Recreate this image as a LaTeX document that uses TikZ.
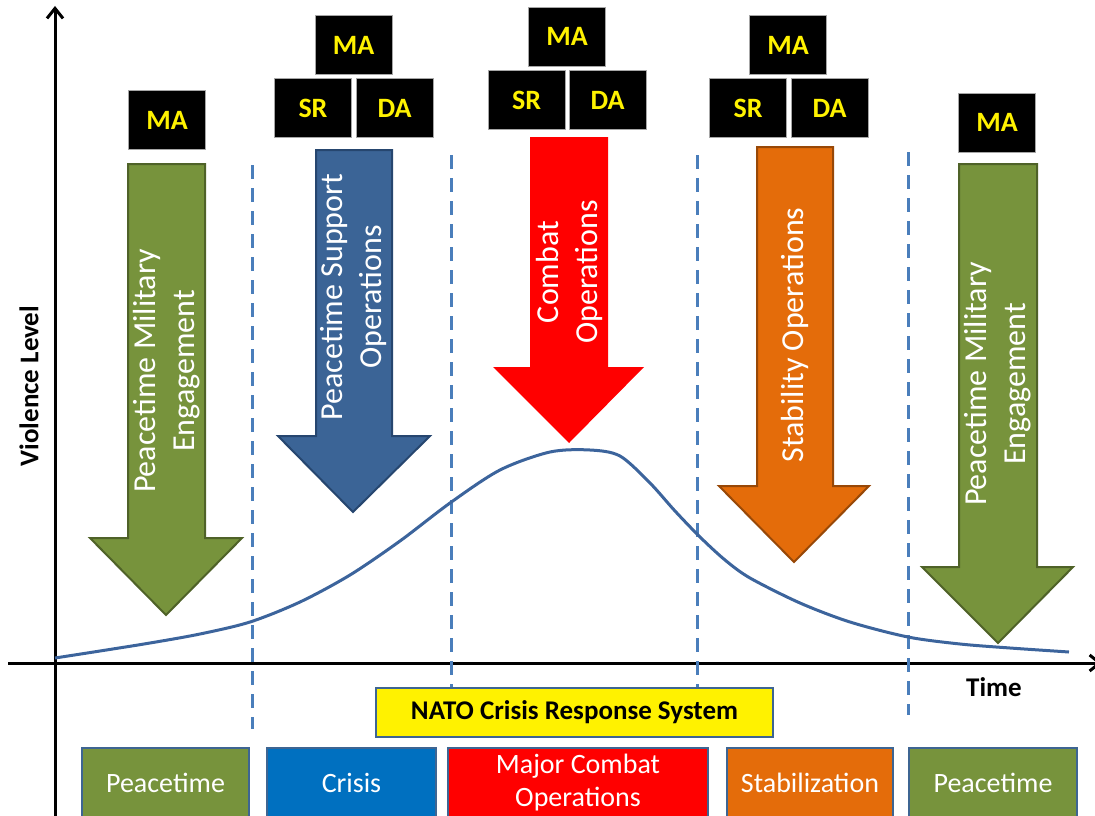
\documentclass[tikz,border=0pt]{standalone}
\usepackage{fontspec}
\setmainfont{Carlito}
\usetikzlibrary{arrows.meta}

\definecolor{pmegreen}{HTML}{77933C}
\definecolor{pmeedge}{HTML}{4F6228}
\definecolor{psoblue}{HTML}{3B6496}
\definecolor{psoedge}{HTML}{26466F}
\definecolor{stabor}{HTML}{E46C0A}
\definecolor{staboredge}{HTML}{984807}
\definecolor{crisisblue}{HTML}{0070C0}
\definecolor{boxedge}{HTML}{3E6592}
\definecolor{curveblue}{HTML}{3C649C}
\definecolor{dashblue}{HTML}{4A7EBB}

\begin{document}
\begin{tikzpicture}[x=1pt,y=-1pt,
  opbox/.style={draw=gray!70,line width=0.8pt,fill=black,text=yellow,
    font=\fontsize{28}{30}\selectfont\bfseries,minimum width=77pt,minimum height=59pt,inner sep=0pt},
  phasebox/.style={draw=boxedge,line width=2pt,text=white,align=center,
    font=\fontsize{28}{33}\selectfont,minimum height=70pt,inner sep=0pt},
  armtext/.style={rotate=90,text=white,align=center,font=\fontsize{32}{39}\selectfont},
  divider/.style={draw=dashblue,line width=3pt,dash pattern=on 14pt off 9pt},
  axislabel/.style={font=\fontsize{27}{30}\selectfont\bfseries}]
\useasboundingbox (0,0) rectangle (1095,816);

% axes
\draw[line width=3pt,-{Straight Barb[length=10pt,width=16pt]}] (55,816) -- (55,6);
\draw[line width=3pt,-{Straight Barb[length=10pt,width=16pt]}] (8,663) -- (1102,663);
\node[axislabel,rotate=90] (vlevel) at (29,386) {Violence Level};
\node[axislabel] (time) at (994,687) {Time};

% operation arrows
\filldraw[fill=pmegreen,draw=pmeedge,line width=2pt]
  (128,164) -- (205,164) -- (205,538) -- (242,538) -- (166,615) -- (90,538) -- (128,538) -- cycle;
\filldraw[fill=psoblue,draw=psoedge,line width=2pt]
  (316,150) -- (392,150) -- (392,436) -- (430,436) -- (353,512) -- (278,436) -- (316,436) -- cycle;
\fill[red]
  (530,137) -- (608,137) -- (608,367) -- (644,367) -- (569,443) -- (493,367) -- (530,367) -- cycle;
\filldraw[fill=stabor,draw=staboredge,line width=2pt]
  (757,147) -- (833,147) -- (833,486) -- (869,486) -- (794,562) -- (719,486) -- (757,486) -- cycle;
\filldraw[fill=pmegreen,draw=pmeedge,line width=2pt]
  (959,164) -- (1037,164) -- (1037,567) -- (1073,567) -- (998,643) -- (922,567) -- (959,567) -- cycle;

\node[armtext] (pme1) at (167,371) {Peacetime Military\\Engagement};
\node[armtext] (pso) at (354,297) {Peacetime Support\\Operations};
\node[armtext] (combat) at (569,272) {Combat\\Operations};
\node[armtext] (stab) at (795,335) {Stability Operations};
\node[armtext] (pme2) at (998,384) {Peacetime Military\\Engagement};

% mission boxes
\node[opbox] (ma1) at (167,120) {MA};
\node[opbox] (ma2) at (353.5,45) {MA};
\node[opbox] (sr2) at (313,108) {SR};
\node[opbox] (da2) at (394.5,108) {DA};
\node[opbox] (ma3) at (567,36.5) {MA};
\node[opbox] (sr3) at (526.5,100) {SR};
\node[opbox] (da3) at (607.5,100) {DA};
\node[opbox] (ma4) at (788,45) {MA};
\node[opbox] (sr4) at (748,108) {SR};
\node[opbox] (da4) at (829.5,108) {DA};
\node[opbox] (ma5) at (997,122.5) {MA};

% crisis response system
\node[draw=boxedge,line width=2pt,fill=yellow,font=\fontsize{27}{30}\selectfont\bfseries,
  minimum width=397pt,minimum height=49pt,inner sep=0pt] (ncrs) at (574.5,712.5) {NATO Crisis Response System};

% phase dividers
\draw[divider] (252,165) -- (252,729);
\draw[divider] (451,155) -- (ncrs.north -| 451,0);
\draw[divider] (697,155) -- (ncrs.north -| 697,0);
\draw[divider] (908,152) -- (908,715);

% violence curve
\draw[curveblue,line width=3pt] plot[smooth,tension=0.5] coordinates
  {(55,658) (100,651) (150,643) (200,634) (250,622) (300,602) (350,575) (400,541)
   (450,503) (500,470) (550,452) (590,450) (620,456) (650,483) (675,511) (700,537)
   (725,560) (750,578) (800,603) (850,622) (908,637) (960,644) (1010,648) (1069,652)};

% phases
\node[phasebox,fill=pmegreen,minimum width=167pt] (peace1) at (165.5,783) {Peacetime};
\node[phasebox,fill=crisisblue,minimum width=169pt] (crisis) at (351.5,783) {Crisis};
\node[phasebox,fill=red,minimum width=260pt] (mco) at (578,783) {Major Combat\\Operations};
\node[phasebox,fill=stabor,minimum width=166pt] (stabil) at (810,783) {Stabilization};
\node[phasebox,fill=pmegreen,minimum width=168pt] (peace2) at (993,783) {Peacetime};
\end{tikzpicture}
\end{document}
